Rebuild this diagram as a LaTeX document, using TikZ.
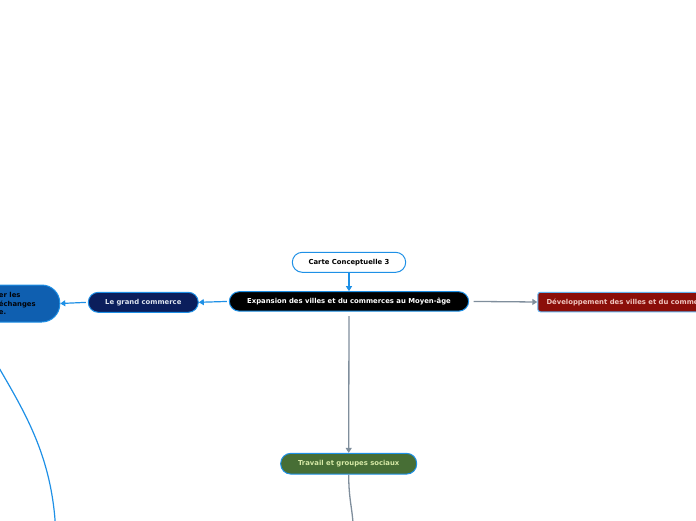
\documentclass[tikz,border=0pt]{standalone}
\usepackage{fontspec}
\setmainfont{DejaVu Sans}
\usepackage{xcolor}
\usetikzlibrary{positioning,arrows.meta,calc}
\definecolor{linkblue}{HTML}{1E90E6}
\definecolor{linkgrey}{HTML}{7F8E9C}
\definecolor{navy}{HTML}{0B1E5C}
\definecolor{deepblue}{HTML}{0F5FB0}
\definecolor{wine}{HTML}{8B0E09}
\definecolor{moss}{HTML}{476E35}
\definecolor{pinktext}{HTML}{F0C6C0}
\definecolor{limetext}{HTML}{D6E9A6}
\definecolor{palewhite}{HTML}{DFE5F0}
\tikzset{
  topic/.style={rectangle,draw=linkblue,line width=1pt,rounded corners=10pt,
    align=center,inner sep=3pt,font=\fontsize{6.85}{8.5}\selectfont\bfseries,
    minimum height=20pt},
  bl/.style={-{Triangle[length=5pt,width=6pt]},draw=linkblue,line width=1.2pt},
  gl/.style={-{Triangle[length=5pt,width=6pt]},draw=linkgrey,line width=1.3pt},
}
\begin{document}
\begin{tikzpicture}[x=1pt,y=-1pt]
  \useasboundingbox (0,0) rectangle (696,520);
  \clip (0,0) rectangle (696,520);
  \node[topic,fill=white,minimum width=113.4pt] (carte) at (349,262.3) {Carte Conceptuelle 3};
  \node[topic,fill=black,text=white,minimum width=239.4pt,minimum height=19.5pt] (main) at (349,301.4) {Expansion des villes et du commerces au Moyen-âge};
  \node[topic,fill=navy,text=palewhite,minimum width=110pt] (grand) at (143.3,302.3) {Le grand commerce};
  \node[topic,fill=deepblue,text=black!90!navy,align=left,rounded corners=18pt,
    minimum width=84.9pt,minimum height=37pt,anchor=east] (echanges) at (60.3,303.5) {er les\\échanges\\e.};
  \node[topic,fill=wine,text=pinktext,rounded corners=2.5pt,draw=linkblue!70,
    minimum height=19.5pt,inner xsep=8.7pt,anchor=west] (devel) at (537.3,302) {Développement des villes et du commerce};
  \node[topic,fill=moss,text=limetext,minimum width=136pt,minimum height=20.7pt] (travail) at (348.7,463.7) {Travail et groupes sociaux};
  \coordinate (travailend) at (353.5,530);
  \coordinate (echangesend) at (56,545);

  \draw[bl] (carte) -- (main);
  \draw[bl,shorten <=2pt] (main.west) -- (grand.east);
  \draw[bl,shorten <=2pt] (grand.west) -- (echanges.east);
  \draw[gl,shorten <=4.5pt] (main.east) -- (devel.west);
  \draw[gl,shorten <=4.5pt] (main.south) -- (travail.north);
  \draw[linkgrey,line width=1.3pt] (travail.south) .. controls (348.7,500) and (352.5,508) .. (travailend);
  \draw[linkblue,line width=1.2pt] (echanges.south west) .. controls (8,392) and (56,440) .. (echangesend);
\end{tikzpicture}
\end{document}
